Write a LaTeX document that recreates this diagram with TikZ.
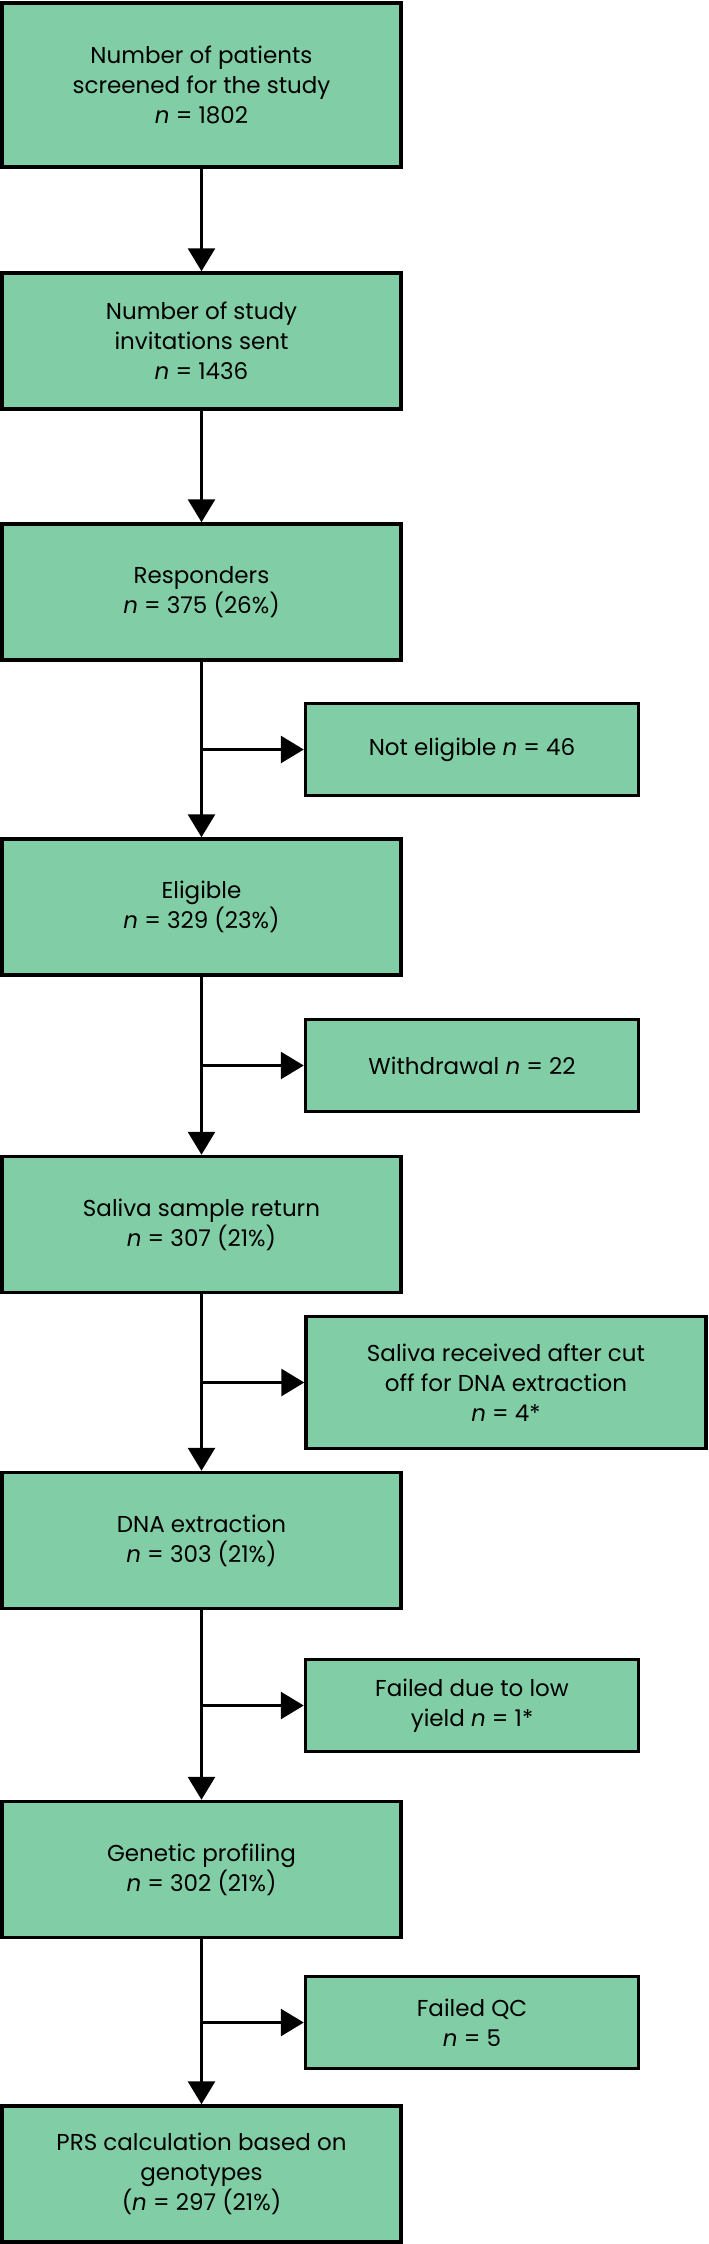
\documentclass[tikz,border=0pt]{standalone}
\usepackage{fontspec}
\setmainfont{Poppins}
\usepackage{xcolor}
\usepackage{tikz}
\usetikzlibrary{shapes,arrows.meta,positioning,calc}
\definecolor{flowgreen}{RGB}{128,205,166}

\begin{document}
\begin{tikzpicture}[
    x=1pt, y=-1pt,
    box1/.style={rectangle, draw=black, fill=flowgreen, line width=3.5pt, align=center, inner sep=0pt, minimum height=136pt, minimum width=399pt, font=\fontsize{23}{30}\selectfont},
    box2/.style={box1, minimum height=92pt, minimum width=333pt},
    arrow/.style={-{Triangle[length=23pt, width=27pt]}, line width=3pt, draw=black}
]
    \useasboundingbox (0,0) rectangle (709,2244);

    \node [box1, minimum height=164pt] (n1) at (201.5,85) {Number of patients\\screened for the study\\\emph{n} = 1802};
    \node [box1] (n2) at (201.5,341) {Number of study\\invitations sent\\\emph{n} = 1436};
    \node [box1] (n3) at (201.5,592) {Responders\\\emph{n} = 375 (26\%)};
    \node [box1] (n4) at (201.5,907) {Eligible\\\emph{n} = 329 (23\%)};
    \node [box1] (n5) at (201.5,1224.5) {Saliva sample return\\\emph{n} = 307 (21\%)};
    \node [box1] (n6) at (201.5,1540.5) {DNA extraction\\\emph{n} = 303 (21\%)};
    \node [box1] (n7) at (201.5,1869.5) {Genetic profiling\\\emph{n} = 302 (21\%)};
    \node [box1] (n8) at (201.5,2174) {PRS calculation based on\\genotypes\\(\emph{n} = 297 (21\%)};

    \node [box2] (s1) at (472,749.5) {Not eligible \emph{n} = 46};
    \node [box2] (s2) at (472,1065.5) {Withdrawal \emph{n} = 22};
    \node [box2, minimum height=132pt, minimum width=400pt] (s3) at (506,1382.5) {Saliva received after cut\\off for DNA extraction\\\emph{n} = 4*};
    \node [box2] (s4) at (472,1705.5) {Failed due to low\\yield \emph{n} = 1*};
    \node [box2] (s5) at (472,2022.5) {Failed QC\\\emph{n} = 5};

    \draw [arrow] (n1) -- (n2);
    \draw [arrow] (n2) -- (n3);
    \draw [arrow] (n3) -- (n4);
    \draw [arrow] (n4) -- (n5);
    \draw [arrow] (n5) -- (n6);
    \draw [arrow] (n6) -- (n7);
    \draw [arrow] (n7) -- (n8);

    \draw [arrow] (n3.south |- s1.west) -- (s1.west);
    \draw [arrow] (n4.south |- s2.west) -- (s2.west);
    \draw [arrow] (n5.south |- s3.west) -- (s3.west);
    \draw [arrow] (n6.south |- s4.west) -- (s4.west);
    \draw [arrow] (n7.south |- s5.west) -- (s5.west);
\end{tikzpicture}
\end{document}
